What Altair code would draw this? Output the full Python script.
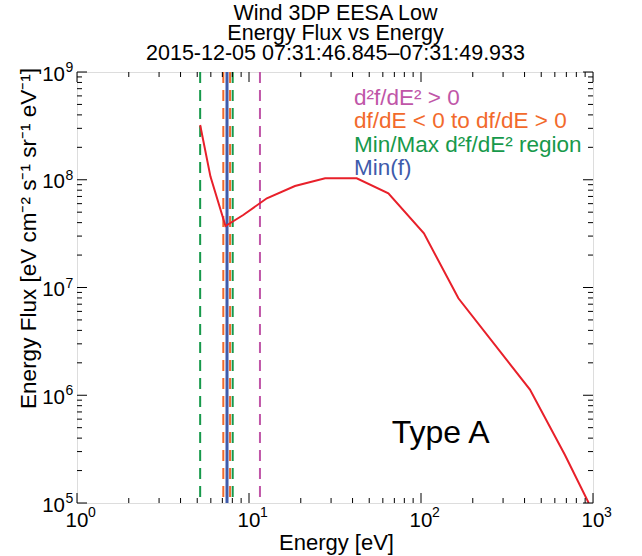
import altair as alt
import pandas as pd

# ---- data ----
energy = [5.2, 5.97, 7.3, 9.26, 12.7, 18.5, 27.7, 42.3, 64.6, 104, 165, 430, 687, 944]
flux = [3.22e8, 1.07e8, 3.72e7, 4.71e7, 6.73e7, 8.75e7, 1.03e8, 1.03e8, 7.48e7,
        3.18e7, 7.94e6, 1.13e6, 2.79e5, 1.0e5]

green_lines = [5.2, 8.04]      # Min/Max d2f/dE2 region
orange_lines = [7.09, 7.76]    # df/dE < 0 to df/dE > 0
magenta_lines = [11.58]        # d2f/dE2 > 0
blue_lines = [7.45]            # Min(f)

x_major = [1, 10, 100, 1000]
x_exp = ["0", "1", "2", "3"]
y_major = [1e5, 1e6, 1e7, 1e8, 1e9]
y_exp = ["5", "6", "7", "8", "9"]
x_minor = [m * 10 ** d for d in range(0, 3) for m in range(2, 10)]
y_minor = [m * 10 ** d for d in range(5, 9) for m in range(2, 10)]

legend_text = ["d²f/dE² > 0", "df/dE < 0 to df/dE > 0", "Min/Max d²f/dE² region", "Min(f)"]
title_lines = ["Wind 3DP EESA Low", "Energy Flux vs Energy", "2015-12-05 07:31:46.845–07:31:49.933"]
x_title = "Energy [eV]"
y_title = "Energy Flux [eV cm⁻² s⁻¹ sr⁻¹ eV⁻¹]"
note = "Type A"

# ---- style ----
FONT = "Liberation Sans"
W, H = 516, 431
C_RED = "#e8202a"
C_GREEN = "#17994b"
C_ORANGE = "#f26a2c"
C_MAGENTA = "#c056a8"
C_BLUE = "#3f5bab"
legend_colors = [C_MAGENTA, C_ORANGE, C_GREEN, C_BLUE]

xs = alt.Scale(type="log", domain=[1, 1000], nice=False)
ys = alt.Scale(type="log", domain=[1e5, 1e9], nice=False)

def X(f="x"):
    return alt.X(f"{f}:Q", scale=xs, axis=None)

def Y(f="y"):
    return alt.Y(f"{f}:Q", scale=ys, axis=None)

def label(txt, x, y, size, color="black", align="left", angle=None):
    kw = dict(font=FONT, fontSize=size, align=align, baseline="alphabetic", color=color)
    if angle is not None:
        kw["angle"] = angle
    return alt.Chart(pd.DataFrame({"t": [txt]})).mark_text(**kw).encode(
        x=alt.value(x), y=alt.value(y), text="t:N")

layers = []

# vertical marker lines
def vlines(vals, color, dash=True, width=2.0):
    m = dict(color=color, strokeWidth=width)
    if dash:
        m["strokeDash"] = [11, 7]
    return alt.Chart(pd.DataFrame({"x": vals})).mark_rule(**m).encode(x=X())

layers.append(vlines(green_lines, C_GREEN))
layers.append(vlines(orange_lines, C_ORANGE))
layers.append(vlines(magenta_lines, C_MAGENTA))
layers.append(vlines(blue_lines, C_BLUE, dash=False, width=3))

# the spectrum
spec = pd.DataFrame({"x": energy, "y": flux})
layers.append(
    alt.Chart(spec).mark_line(color=C_RED, strokeWidth=2, clip=True).encode(x=X(), y=Y())
)

# ticks (inward, on all four sides)
def xticks(vals, length):
    d = pd.DataFrame({"x": vals})
    bot = alt.Chart(d).mark_rule(color="black", strokeWidth=1).encode(
        x=X(), y=alt.value(H), y2=alt.value(H - length))
    top = alt.Chart(d).mark_rule(color="black", strokeWidth=1).encode(
        x=X(), y=alt.value(0), y2=alt.value(length))
    return [bot, top]

def yticks(vals, length):
    d = pd.DataFrame({"y": vals})
    left = alt.Chart(d).mark_rule(color="black", strokeWidth=1).encode(
        y=Y(), x=alt.value(0), x2=alt.value(length))
    right = alt.Chart(d).mark_rule(color="black", strokeWidth=1).encode(
        y=Y(), x=alt.value(W), x2=alt.value(W - length))
    return [left, right]

layers += xticks(x_major, 10) + xticks(x_minor, 5)
layers += yticks(y_major, 10) + yticks(y_minor, 5)

# tick labels: "10" with superscript exponent
xl = pd.DataFrame({"x": x_major, "e": x_exp})
layers.append(alt.Chart(xl).mark_text(font=FONT, fontSize=20.5, align="center",
                                       baseline="alphabetic", color="black").encode(
    x=X(), y=alt.value(H + 24), text=alt.value("10")))
layers.append(alt.Chart(xl).mark_text(font=FONT, fontSize=14, align="left",
                                       baseline="alphabetic", dx=11, color="black").encode(
    x=X(), y=alt.value(H + 14), text="e:N"))

yl = pd.DataFrame({"y": y_major, "e": y_exp})
layers.append(alt.Chart(yl).mark_text(font=FONT, fontSize=20.5, align="right",
                                       baseline="alphabetic", dy=8.5, color="black").encode(
    y=Y(), x=alt.value(-12), text=alt.value("10")))
layers.append(alt.Chart(yl).mark_text(font=FONT, fontSize=14, align="left",
                                       baseline="alphabetic", dy=0, color="black").encode(
    y=Y(), x=alt.value(-11.5), text="e:N"))

# axis titles
layers.append(label(x_title, 259.5, H + 46.5, 22, align="center"))
layers.append(label(y_title, -41, 166.5, 22.5, align="center", angle=270))

# three-line title
for i, txt in enumerate(title_lines):
    layers.append(label(txt, 258.5, -52 + 20.2 * i, 21.5, align="center"))

# legend-like annotation
for i, (txt, col) in enumerate(zip(legend_text, legend_colors)):
    layers.append(label(txt, 277, 33 + 23.4 * i, 22.5, color=col))

# Type A
layers.append(label(note, 314.7, 370.7, 32))

chart = alt.layer(*layers).properties(
    width=W, height=H,
    autosize=alt.AutoSizeParams(type="none"),
    padding={"left": 77, "top": 72, "right": 49, "bottom": 53},
).configure_view(stroke="black", strokeWidth=1.2).configure(background="white")

chart.save("out.html", embed_options={"renderer": "svg", "actions": False})
